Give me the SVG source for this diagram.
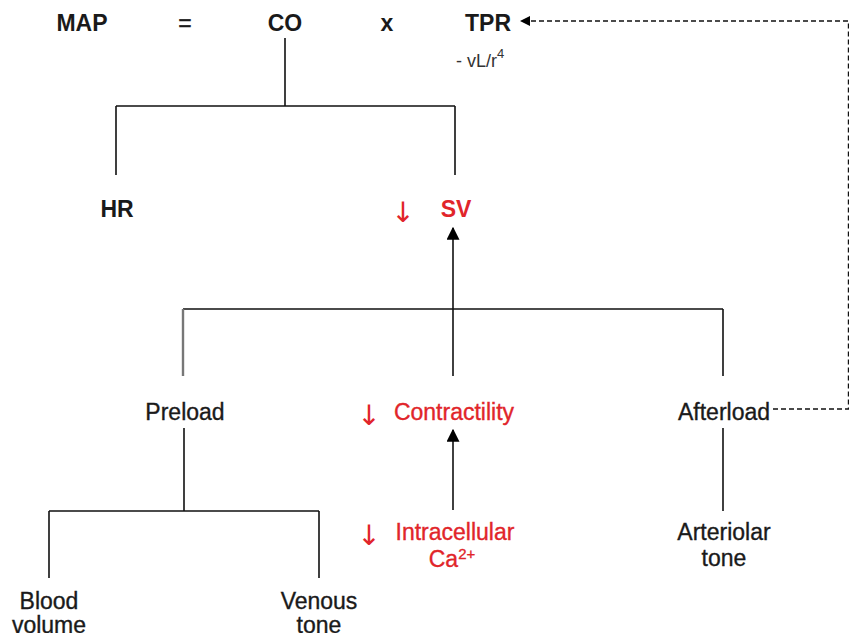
<svg xmlns="http://www.w3.org/2000/svg" width="849" height="633" viewBox="0 0 849 633">
<defs>
<style>
.t{font-family:"Liberation Sans",Arial,sans-serif;font-size:23px;fill:#1a1a1a;stroke:#1a1a1a;stroke-width:0.35;text-anchor:middle}
.b{font-weight:bold;stroke-width:0}
.r{fill:#e1252a;stroke:#e1252a}
.ar{font-family:"DejaVu Sans",sans-serif;font-size:28px;fill:#e1252a;stroke:none;text-anchor:middle}
.s{font-size:18px;fill:#333;stroke-width:0;text-anchor:start}
.ln{fill:none;stroke:#111;stroke-width:1.6}
.dash{fill:none;stroke:#111;stroke-width:1.4;stroke-dasharray:5 3}
</style>
<marker id="ah" viewBox="0 0 10 10" refX="9" refY="5" markerWidth="10" markerHeight="10" markerUnits="userSpaceOnUse" orient="auto">
<path d="M0,0 L10,5 L0,10 Z" fill="#000"/>
</marker>
<marker id="ah2" viewBox="0 0 10 10" refX="9" refY="5" markerWidth="13" markerHeight="13" markerUnits="userSpaceOnUse" orient="auto">
<path d="M0,0 L10,5 L0,10 Z" fill="#000"/>
</marker>
</defs>
<rect width="849" height="633" fill="#fff"/>
<g id="connectors">
<path class="ln" d="M285,38 V106 M116,106 H455 M116,106 V175 M455,106 V175"/>
<path class="ln" d="M453,376 V228" marker-end="url(#ah2)"/>
<path class="ln" d="M183,309 H723 M723,309 V376"/>
<path style="fill:none;stroke:#777;stroke-width:2.4" d="M183,309 V376"/>
<path class="ln" d="M453,510 V430" marker-end="url(#ah2)"/>
<path class="ln" d="M184,428 V511 M49,511 H319 M49,511 V578 M319,511 V578"/>
<path class="ln" d="M723,428 V511"/>
<path class="dash" d="M773,409 H848.5 V21 H521" marker-end="url(#ah)"/>
</g>
<g id="MAP"><text class="t b" x="82" y="31">MAP</text></g>
<g id="eq"><text class="t" x="185" y="31">=</text></g>
<g id="CO"><text class="t b" x="285" y="31">CO</text></g>
<g id="x"><text class="t b" x="387" y="31">x</text></g>
<g id="TPR"><text class="t b" x="488" y="31">TPR</text>
<text class="t s" x="456" y="67">- vL/r<tspan dy="-9" font-size="13">4</tspan></text></g>
<g id="HR"><text class="t b" x="117" y="217">HR</text></g>
<g id="SV"><text class="ar" x="403" y="222">↓</text><text class="t b r" x="456" y="217">SV</text></g>
<g id="Preload"><text class="t" x="185" y="420">Preload</text></g>
<g id="Contractility"><text class="ar" x="369" y="425">↓</text><text class="t r" x="454" y="420">Contractility</text></g>
<g id="Afterload"><text class="t" x="724" y="420">Afterload</text></g>
<g id="Intracellular"><text class="ar" x="369" y="545">↓</text><text class="t r" x="455" y="540">Intracellular</text><text class="t r" x="452" y="567">Ca<tspan dy="-8" font-size="15">2+</tspan></text></g>
<g id="Arteriolar"><text class="t" x="724" y="540">Arteriolar</text><text class="t" x="724" y="566">tone</text></g>
<g id="Blood"><text class="t" x="49" y="609">Blood</text><text class="t" x="49" y="633">volume</text></g>
<g id="Venous"><text class="t" x="319" y="609">Venous</text><text class="t" x="319" y="633">tone</text></g>
</svg>
